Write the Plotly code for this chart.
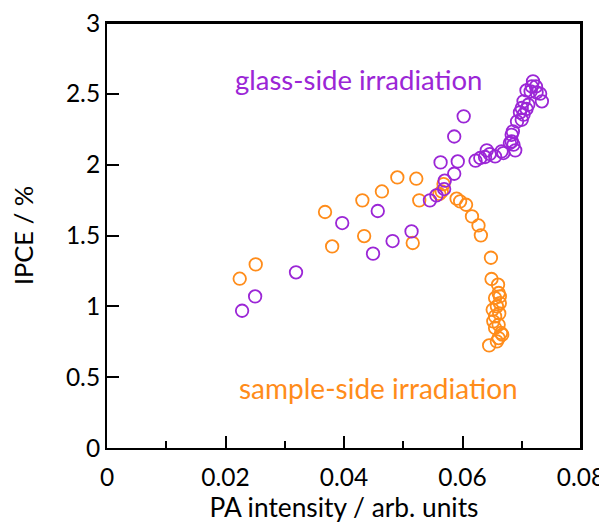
import plotly.graph_objects as go

# glass-side irradiation (purple)
glass_x = [0.0228, 0.0250, 0.0319, 0.0397, 0.0449, 0.0457, 0.0482, 0.0514, 0.0545, 0.0556,
           0.0569, 0.0570, 0.0586, 0.0563, 0.0592, 0.0586, 0.0602, 0.0622, 0.0630, 0.0638,
           0.0641, 0.0646, 0.0655, 0.0666, 0.0669, 0.0680, 0.0683, 0.0686, 0.0683, 0.0689,
           0.0685, 0.0692, 0.0697, 0.0700, 0.0703, 0.0700, 0.0708, 0.0711, 0.0703, 0.0708,
           0.0715, 0.0717, 0.0719, 0.0724, 0.0725, 0.0731, 0.0734]
glass_y = [0.969, 1.070, 1.240, 1.588, 1.372, 1.673, 1.461, 1.529, 1.748, 1.783,
           1.828, 1.887, 1.936, 2.016, 2.023, 2.199, 2.341, 2.028, 2.047, 2.054,
           2.101, 2.075, 2.058, 2.094, 2.082, 2.153, 2.164, 2.141, 2.211, 2.101,
           2.235, 2.305, 2.369, 2.317, 2.353, 2.400, 2.393, 2.423, 2.447, 2.524,
           2.517, 2.552, 2.588, 2.552, 2.510, 2.501, 2.447]

# sample-side irradiation (orange)
sample_x = [0.0224, 0.0251, 0.0368, 0.0380, 0.0431, 0.0434, 0.0464, 0.0490, 0.0516, 0.0522,
            0.0527, 0.0561, 0.0565, 0.0568, 0.0590, 0.0596, 0.0606, 0.0616, 0.0627, 0.0631,
            0.0648, 0.0649, 0.0660, 0.0661, 0.0663, 0.0655, 0.0663, 0.0658, 0.0651, 0.0655,
            0.0652, 0.0661, 0.0655, 0.0665, 0.0661, 0.0658, 0.0645, 0.0667, 0.0662]
sample_y = [1.195, 1.296, 1.666, 1.423, 1.748, 1.496, 1.811, 1.910, 1.447, 1.901,
            1.748, 1.793, 1.811, 1.863, 1.760, 1.741, 1.717, 1.635, 1.571, 1.501,
            1.343, 1.193, 1.153, 1.094, 1.070, 1.059, 1.023, 1.000, 0.976, 0.929,
            0.894, 0.870, 0.847, 0.812, 0.776, 0.752, 0.724, 0.800, 0.950]

x_ticks = [0, 0.02, 0.04, 0.06, 0.08]
x_tick_labels = ["0", "0.02", "0.04", "0.06", "0.08"]
y_ticks = [0, 0.5, 1, 1.5, 2, 2.5, 3]
y_tick_labels = ["0", "0.5", "1", "1.5", "2", "2.5", "3"]

PURPLE = "#9B26D6"
ORANGE = "#FF8C1A"
FONT = "Lato"

fig = go.Figure()
fig.add_trace(go.Scatter(x=sample_x, y=sample_y, mode="markers",
                         marker=dict(symbol="circle-open", size=12.5, color=ORANGE,
                                     line=dict(width=1.8, color=ORANGE)),
                         showlegend=False, cliponaxis=False))
fig.add_trace(go.Scatter(x=glass_x, y=glass_y, mode="markers",
                         marker=dict(symbol="circle-open", size=12.5, color=PURPLE,
                                     line=dict(width=1.8, color=PURPLE)),
                         showlegend=False, cliponaxis=False))

fig.add_annotation(x=0.0425, y=2.60, text="glass-side irradiation", showarrow=False,
                   font=dict(family=FONT, size=27.5, color=PURPLE), xanchor="center", yanchor="middle")
fig.add_annotation(x=0.0458, y=0.426, text="sample-side irradiation", showarrow=False,
                   font=dict(family=FONT, size=28, color=ORANGE), xanchor="center", yanchor="middle")

# top and right edges of the plot frame
fig.add_shape(type="line", xref="x domain", yref="y domain", x0=0, x1=1, y0=1, y1=1,
              line=dict(color="black", width=2), layer="above")
fig.add_shape(type="line", xref="x domain", yref="y domain", x0=1, x1=1, y0=0, y1=1,
              line=dict(color="black", width=2), layer="above")

# the page body adds an 8px offset, so margins are reduced to compensate
fig.update_layout(
    width=607, height=522,
    margin=dict(l=99, r=34, t=15, b=82),
    plot_bgcolor="white", paper_bgcolor="white",
    font=dict(family=FONT, size=24.5, color="black"),
)
fig.update_xaxes(range=[0, 0.08], tickvals=x_ticks, ticktext=x_tick_labels,
                 ticks="inside", ticklen=12, tickwidth=2, tickcolor="black",
                 minor=dict(ticks="inside", dtick=0.01, ticklen=7, tickwidth=2, tickcolor="black"),
                 showline=True, linewidth=2, linecolor="black", mirror=True,
                 showgrid=False, zeroline=False, automargin=False,
                 ticklabeloverflow="allow", ticklabelstandoff=7,
                 title=dict(text="PA intensity / arb. units", font=dict(family=FONT, size=26.3), standoff=4),
                 tickfont=dict(family=FONT, size=24.5))
fig.update_yaxes(range=[0, 3], tickvals=y_ticks, ticktext=y_tick_labels,
                 ticks="inside", ticklen=12, tickwidth=2, tickcolor="black",
                 showline=True, linewidth=2, linecolor="black", mirror=True,
                 showgrid=False, zeroline=False, automargin=False,
                 ticklabeloverflow="allow",
                 title=dict(text="IPCE / %", font=dict(family=FONT, size=25.5), standoff=35),
                 tickfont=dict(family=FONT, size=24.5))

fig.write_html("out.html")
